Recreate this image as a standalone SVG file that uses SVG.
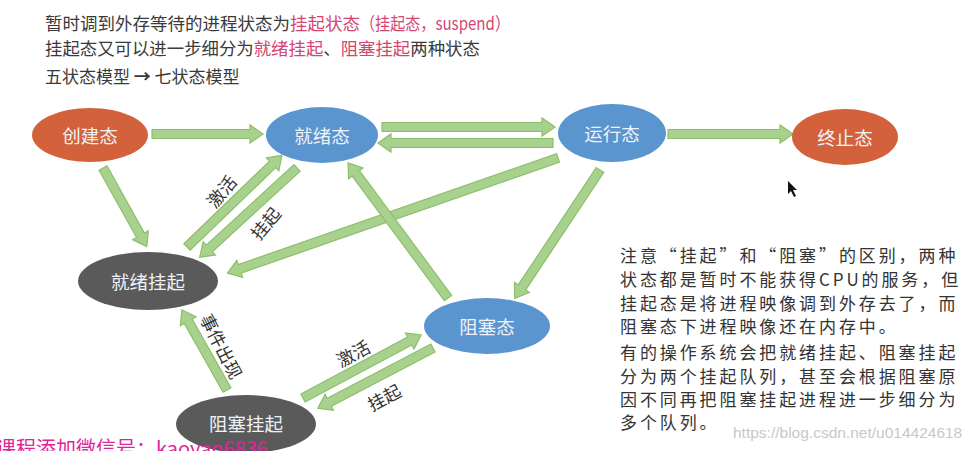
<svg xmlns="http://www.w3.org/2000/svg" width="977" height="451" viewBox="0 0 977 451">
<defs>
<style>
.t{font-family:"Noto Sans CJK SC","Liberation Sans",sans-serif;fill:#3a3a3a}
.pk{fill:#d2466f}
.nt{font-family:"Noto Sans CJK SC","Liberation Sans",sans-serif;font-size:18.5px;text-anchor:middle;dominant-baseline:central;fill:#eef2f8}
.ar{fill:#a9d18e;stroke:#8cbf6a;stroke-width:1.2}
.lb{font-family:"Noto Sans CJK SC","Liberation Sans",sans-serif;font-size:17.5px;fill:#333;text-anchor:middle;dominant-baseline:central}
.blue{fill:#5b95cf}
.orange{fill:#d3623c}
.gray{fill:#5a5a5a}
.note{font-family:"Noto Sans CJK SC","Liberation Sans",sans-serif;font-size:17px;fill:#333;letter-spacing:2.9px}
</style>
</defs>
<rect width="977" height="451" fill="#ffffff"/>
<g id="header">
<text class="t" x="45" y="30" font-size="17.5">暂时调到外存等待的进程状态为<tspan class="pk">挂起状态</tspan></text>
<text class="t pk" x="360" y="30" font-size="17.5" textLength="150" lengthAdjust="spacingAndGlyphs">（挂起态，suspend）</text>
<text class="t" x="45" y="55" font-size="17.4">挂起态又可以进一步细分为<tspan class="pk">就绪挂起</tspan>、<tspan class="pk">阻塞挂起</tspan>两种状态</text>
<text class="t" x="45" y="83" font-size="17">五状态模型 <tspan font-weight="bold">→</tspan> 七状态模型</text>
</g>
<g id="connectors">
<path class="ar" d="M0,-4.5 H98 V-9 L111,0 L98,9 V4.5 H0 Z" transform="translate(152,134)"/>
<path class="ar" d="M0,-4.5 H160 V-9 L173,0 L160,9 V4.5 H0 Z" transform="translate(382,127)"/>
<path class="ar" d="M0,-4.5 H162 V-9 L175,0 L162,9 V4.5 H0 Z" transform="translate(553,143) rotate(180)"/>
<path class="ar" d="M0,-4.5 H112 V-9 L125,0 L112,9 V4.5 H0 Z" transform="translate(668,134)"/>
<path class="ar" d="M0,-4.5 H77 V-9 L90,0 L77,9 V4.5 H0 Z" transform="translate(103,168) rotate(60.9)"/>
<path class="ar" d="M0,-4.5 H119 V-9 L132,0 L119,9 V4.5 H0 Z" transform="translate(187,247) rotate(-44)"/>
<path class="ar" d="M0,-4.5 H119 V-9 L132,0 L119,9 V4.5 H0 Z" transform="translate(297,168) rotate(137.5)"/>
<path class="ar" d="M0,-4.5 H337 V-9 L350,0 L337,9 V4.5 H0 Z" transform="translate(558,158) rotate(160.8)"/>
<path class="ar" d="M0,-4.5 H155 V-9 L168,0 L155,9 V4.5 H0 Z" transform="translate(448,298) rotate(-126.5)"/>
<path class="ar" d="M0,-4.5 H141 V-9 L154,0 L141,9 V4.5 H0 Z" transform="translate(600,170) rotate(123.6)"/>
<path class="ar" d="M0,-4.5 H79 V-9 L92,0 L79,9 V4.5 H0 Z" transform="translate(227,390) rotate(-119.4)"/>
<path class="ar" d="M0,-4.5 H121 V-9 L134,0 L121,9 V4.5 H0 Z" transform="translate(303,398) rotate(-28.1)"/>
<path class="ar" d="M0,-4.5 H117 V-9 L130,0 L117,9 V4.5 H0 Z" transform="translate(433,348) rotate(152.4)"/>
<text class="lb" transform="translate(221,191) rotate(-50)">激活</text>
<text class="lb" transform="translate(265,223) rotate(-50)">挂起</text>
<text class="lb" transform="translate(222,346) rotate(63)">事件出现</text>
<text class="lb" transform="translate(353,353) rotate(-28)">激活</text>
<text class="lb" transform="translate(384,397) rotate(-28)">挂起</text>
</g>
<g id="n-create"><ellipse class="orange" cx="90" cy="135" rx="58" ry="27"/><text class="nt" x="90" y="135">创建态</text></g>
<g id="n-ready"><ellipse class="blue" cx="322" cy="135" rx="56" ry="28"/><text class="nt" x="322" y="135">就绪态</text></g>
<g id="n-run"><ellipse class="blue" cx="612" cy="133" rx="54" ry="29"/><text class="nt" x="612" y="133">运行态</text></g>
<g id="n-exit"><ellipse class="orange" cx="845" cy="137" rx="53" ry="28"/><text class="nt" x="845" y="137">终止态</text></g>
<g id="n-readysusp"><ellipse class="gray" cx="148" cy="281" rx="70" ry="29"/><text class="nt" x="148" y="281">就绪挂起</text></g>
<g id="n-block"><ellipse class="blue" cx="487" cy="326" rx="63" ry="28"/><text class="nt" x="487" y="326">阻塞态</text></g>
<g id="n-blocksusp"><ellipse class="gray" cx="246" cy="424" rx="70" ry="29"/><text class="nt" x="246" y="423">阻塞挂起</text></g>
<g id="note">
<text class="note" x="620" y="262">注意“挂起”和“阻塞”的区别，两种</text>
<text class="note" x="620" y="286">状态都是暂时不能获得CPU的服务，但</text>
<text class="note" x="620" y="310">挂起态是将进程映像调到外存去了，而</text>
<text class="note" x="620" y="333">阻塞态下进程映像还在内存中。</text>
<text class="note" x="620" y="359">有的操作系统会把就绪挂起、阻塞挂起</text>
<text class="note" x="620" y="383">分为两个挂起队列，甚至会根据阻塞原</text>
<text class="note" x="620" y="406">因不同再把阻塞挂起进程进一步细分为</text>
<text class="note" x="620" y="429">多个队列。</text>
</g>
<text x="733" y="438" font-family="Liberation Sans, sans-serif" font-size="15.5" fill="#c8c8c8">https://blog.csdn.net/u014424618</text>
<text x="-4" y="456" font-family="Noto Sans CJK SC, Liberation Sans, sans-serif" font-size="20" fill="#e0249a">课程添加微信号：kaoyan6836</text>
<path d="M788,181 V194 L791,191 L794,197 L796,196 L793,190 L797,190 Z" fill="#111"/>
</svg>
